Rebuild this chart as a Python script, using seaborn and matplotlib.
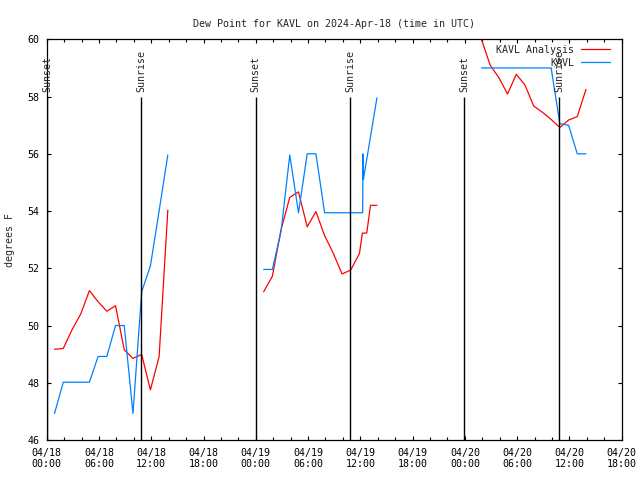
import pandas as pd
import matplotlib
matplotlib.use("Agg")
import matplotlib.pyplot as plt
import matplotlib.dates as mdates
import seaborn as sns

# dew point (deg F), obs times in UTC
day1_times = ["00:54", "01:54", "02:54", "03:54", "04:54", "05:54", "06:54",
              "07:54", "08:54", "09:54", "10:54", "11:54", "12:54", "13:54"]
day1_analysis = [49.17, 49.2, 49.85, 50.4, 51.22, 50.83, 50.5,
                 50.69, 49.15, 48.85, 48.99, 47.75, 48.91, 54.03]
day1_obs = [46.93, 48.02, 48.02, 48.02, 48.02, 48.92, 48.92,
            50.0, 50.0, 46.93, 51.18, 52.08, 54.0, 55.96]

day2_analysis_times = ["00:54", "01:54", "02:54", "03:54", "04:54", "05:54", "06:54",
                       "07:54", "08:54", "09:54", "10:54", "11:54", "12:14", "12:44",
                       "13:10", "13:54"]
day2_analysis = [51.18, 51.72, 53.35, 54.48, 54.67, 53.45, 53.98,
                 53.14, 52.52, 51.8, 51.94, 52.52, 53.23, 53.23,
                 54.2, 54.2]
day2_obs_times = ["00:54", "01:54", "02:54", "03:54", "04:54", "05:54", "06:54",
                  "07:54", "08:54", "09:54", "10:54", "11:54", "12:16", "12:18",
                  "12:21", "13:54"]
day2_obs = [51.96, 51.96, 53.3, 55.96, 53.94, 56.0, 56.0,
            53.94, 53.94, 53.94, 53.94, 53.94, 53.94, 56.0,
            55.1, 57.95]

day3_times = ["01:54", "02:54", "03:54", "04:54", "05:54", "06:54", "07:54",
              "08:54", "09:54", "10:54", "11:54", "12:54", "13:54"]
day3_analysis = [60.0, 59.1, 58.66, 58.09, 58.78, 58.4, 57.67,
                 57.45, 57.2, 56.92, 57.18, 57.3, 58.25]
day3_obs = [59.0, 59.0, 59.0, 59.0, 59.0, 59.0, 59.0,
            59.0, 59.0, 57.05, 57.0, 56.0, 56.0]

sun_labels = ["Sunset", "Sunrise", "Sunset", "Sunrise", "Sunset", "Sunrise"]
sun_times = ["2024-04-18 00:02", "2024-04-18 10:49", "2024-04-19 00:00",
             "2024-04-19 10:51", "2024-04-19 23:54", "2024-04-20 10:50"]

rows = []
def add(date, times, vals, series, seg):
    for t, v in zip(times, vals):
        rows.append({"time": pd.Timestamp(date + " " + t), "dewpt": v,
                     "series": series, "seg": seg})

add("2024-04-18", day1_times, day1_analysis, "KAVL Analysis", 1)
add("2024-04-18", day1_times, day1_obs, "KAVL", 1)
add("2024-04-19", day2_analysis_times, day2_analysis, "KAVL Analysis", 2)
add("2024-04-19", day2_obs_times, day2_obs, "KAVL", 2)
add("2024-04-20", day3_times, day3_analysis, "KAVL Analysis", 3)
add("2024-04-20", day3_times, day3_obs, "KAVL", 3)
df = pd.DataFrame(rows)

sns.set_style("ticks")
plt.rcParams['font.family'] = ['DejaVu Sans Mono']
plt.rcParams['font.size'] = 7.2

fig = plt.figure(figsize=(6.4, 4.8), dpi=100)
ax = fig.add_axes([0.073, 0.0833, 0.8984, 0.8348])

sns.lineplot(data=df, x="time", y="dewpt", hue="series", units="seg", estimator=None,
             hue_order=["KAVL Analysis", "KAVL"],
             palette={"KAVL Analysis": "#ff0000", "KAVL": "#0080ff"},
             lw=0.9, sort=False, ax=ax)

# sunrise / sunset markers
for lab, t in zip(sun_labels, sun_times):
    x = mdates.date2num(pd.Timestamp(t))
    ax.vlines(x, 46, 58, color="black", lw=1)
    ax.text(x, 58.15, lab, rotation=90, ha="center", va="bottom", fontsize=7.2)

ax.set_xlim(mdates.date2num(pd.Timestamp("2024-04-18 00:00")),
            mdates.date2num(pd.Timestamp("2024-04-20 18:00")))
ax.set_ylim(46, 60)
ax.set_yticks([46, 48, 50, 52, 54, 56, 58, 60])
ax.xaxis.set_major_locator(mdates.HourLocator(byhour=[0, 6, 12, 18]))
ax.xaxis.set_minor_locator(mdates.HourLocator(byhour=range(0, 24, 2)))
ax.xaxis.set_major_formatter(mdates.DateFormatter("%m/%d\n%H:%M"))

ax.tick_params(which="both", direction="in", top=True, right=True,
               color="black", width=0.8, labelsize=7.2, labelcolor="black")
ax.tick_params(which="major", length=3, pad=5.5)
ax.tick_params(which="minor", length=2)
for s in ax.spines.values():
    s.set_color("black")
    s.set_linewidth(0.9)

ax.set_xlabel("")
ax.set_ylabel("degrees F", fontsize=7.2)
ax.yaxis.set_label_coords(-0.055, 0.5)
ax.set_title("Dew Point for KAVL on 2024-Apr-18 (time in UTC)", fontsize=7.2, pad=9)

sns.move_legend(ax, "upper right", bbox_to_anchor=(0.98, 0.987), frameon=False,
                markerfirst=False, title=None, fontsize=7.2, handlelength=2.9,
                handletextpad=0.7, labelspacing=0.3, borderpad=0, borderaxespad=0)

fig.savefig("out.png", dpi=100)
